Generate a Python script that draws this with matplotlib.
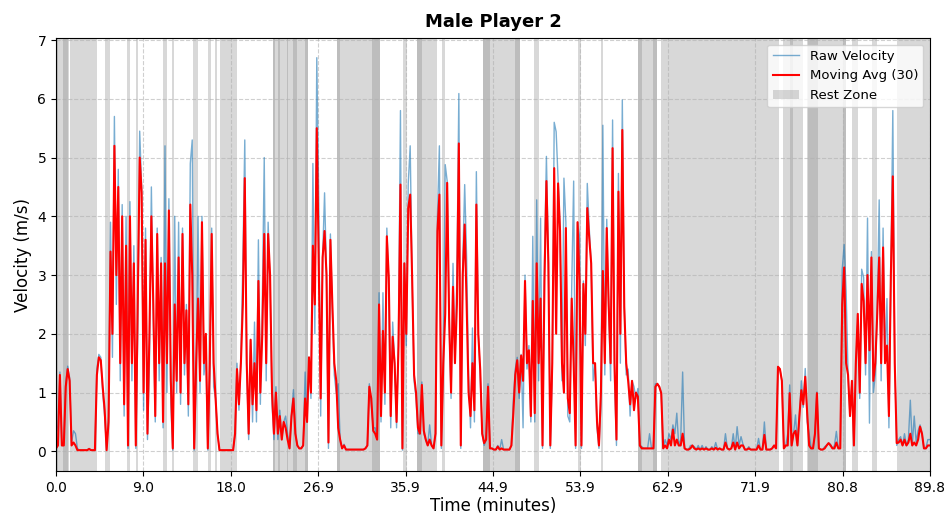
import numpy as np
import matplotlib
matplotlib.use("Agg")
import matplotlib.pyplot as plt
from matplotlib.patches import Patch
from matplotlib.lines import Line2D

# Sampling step of the series (minutes) and total duration
step_min = 0.2
duration_min = 89.82

# Moving average (red) values, one list per 10-minute block (0.2 min steps)
ma_00 = [0.05, 0.1, 1.3, 0.1, 0.1, 1.1, 1.4, 1.2, 0.1, 0.15,
         0.1, 0.02, 0.02, 0.02, 0.02, 0.02, 0.02, 0.04, 0.02, 0.02,
         0.02, 1.3, 1.6, 1.55, 1.1, 0.7, 0.02, 0.5, 3.4, 2.0,
         5.2, 3.0, 4.5, 1.5, 4.0, 0.8, 3.5, 0.1, 4.0, 1.5,
         3.2, 0.1, 2.5, 5.0, 4.4, 1.0, 3.6, 0.3, 2.0, 4.0]
ma_10 = [2.5, 0.6, 3.7, 1.5, 3.2, 0.5, 3.2, 1.5, 4.1, 1.2,
         0.05, 2.5, 1.2, 3.3, 1.0, 3.7, 1.5, 2.4, 0.8, 4.2,
         3.0, 0.05, 1.5, 2.6, 1.2, 3.9, 1.5, 2.0, 0.05, 1.5,
         3.7, 1.5, 0.9, 0.3, 0.02, 0.02, 0.02, 0.02, 0.02, 0.02,
         0.02, 0.02, 0.3, 1.4, 0.8, 1.5, 2.5, 4.65, 1.5, 0.3]
ma_20 = [1.9, 0.8, 1.5, 0.7, 2.9, 1.0, 2.0, 3.7, 1.5, 3.7,
         3.0, 1.0, 0.3, 1.0, 0.3, 0.6, 0.2, 0.5, 0.4, 0.2,
         0.05, 0.6, 0.9, 0.3, 0.1, 0.05, 0.05, 0.1, 0.9, 0.5,
         1.6, 1.0, 3.5, 2.5, 5.5, 3.2, 0.9, 3.3, 3.75, 3.0,
         0.15, 3.6, 2.5, 1.5, 1.2, 0.4, 0.2, 0.05, 0.1, 0.03]
ma_30 = [0.03, 0.03, 0.03, 0.03, 0.03, 0.03, 0.03, 0.03, 0.03, 0.05,
         0.1, 1.1, 0.9, 0.35, 0.3, 0.2, 2.5, 0.6, 2.05, 1.0,
         3.66, 2.96, 0.6, 1.95, 1.5, 0.5, 1.8, 4.54, 0.05, 3.2,
         2.0, 4.14, 4.37, 2.96, 1.3, 1.0, 0.4, 0.3, 1.13, 0.35,
         0.2, 0.1, 0.2, 0.1, 0.05, 0.3, 3.75, 4.37, 0.1, 1.5]
ma_40 = [2.34, 4.57, 2.28, 1.0, 2.8, 1.5, 2.5, 5.24, 0.1, 3.0,
         3.86, 2.5, 1.0, 0.6, 1.5, 0.7, 4.2, 2.0, 1.38, 0.3,
         0.14, 0.2, 1.1, 0.05, 0.05, 0.03, 0.03, 0.08, 0.03, 0.05,
         0.03, 0.03, 0.03, 0.03, 0.1, 0.65, 1.3, 1.55, 1.0, 1.63,
         1.2, 2.9, 1.5, 1.72, 0.6, 2.56, 0.65, 3.2, 1.5, 2.6]
ma_50 = [0.1, 2.9, 4.6, 3.2, 0.1, 1.5, 4.82, 2.0, 4.56, 3.75,
         1.5, 1.0, 3.8, 0.9, 0.65, 2.6, 1.5, 0.1, 3.9, 2.9,
         0.1, 2.85, 2.0, 4.14, 3.63, 3.2, 1.5, 1.5, 0.5, 0.1,
         1.0, 3.07, 1.5, 3.8, 2.5, 1.5, 5.16, 1.5, 0.2, 4.42,
         2.0, 5.47, 2.45, 1.5, 1.2, 0.8, 1.2, 0.7, 1.0, 0.93]
ma_60 = [0.1, 0.05, 0.05, 0.05, 0.05, 0.05, 0.05, 0.05, 1.1, 1.15,
         1.1, 0.99, 0.05, 0.1, 0.05, 0.2, 0.1, 0.37, 0.1, 0.2,
         0.1, 0.1, 0.3, 0.05, 0.03, 0.03, 0.05, 0.1, 0.05, 0.03,
         0.05, 0.03, 0.05, 0.03, 0.05, 0.03, 0.03, 0.05, 0.03, 0.06,
         0.03, 0.05, 0.03, 0.03, 0.15, 0.05, 0.03, 0.05, 0.15, 0.03]
ma_70 = [0.15, 0.05, 0.1, 0.1, 0.03, 0.03, 0.05, 0.03, 0.03, 0.03,
         0.03, 0.1, 0.03, 0.03, 0.28, 0.03, 0.03, 0.03, 0.05, 0.1,
         0.05, 1.44, 1.4, 1.2, 0.05, 0.1, 0.1, 0.99, 0.1, 0.3,
         0.35, 0.1, 0.6, 1.04, 0.8, 1.27, 0.65, 0.1, 0.05, 0.05,
         0.3, 0.99, 0.05, 0.03, 0.03, 0.05, 0.1, 0.14, 0.1, 0.05]
ma_80 = [0.05, 0.15, 0.05, 0.05, 2.5, 3.13, 1.5, 1.3, 0.6, 1.2,
         0.1, 1.5, 2.34, 1.0, 2.85, 2.56, 1.5, 3.0, 1.72, 3.3,
         1.2, 1.5, 2.34, 3.3, 1.5, 3.47, 1.5, 1.8, 0.6, 3.0,
         4.68, 1.5, 0.14, 0.15, 0.2, 0.1, 0.2, 0.1, 0.15, 0.3,
         0.1, 0.15, 0.1, 0.2, 0.42, 0.3, 0.05, 0.05, 0.1, 0.1]

# Raw velocity (blue) values at the same times
raw_00 = [0.3, 0.45, 1.35, 0.1, 0.15, 1.15, 1.45, 1.25, 0.15, 0.35,
          0.3, 0.05, 0.02, 0.02, 0.02, 0.02, 0.02, 0.05, 0.02, 0.02,
          0.02, 1.4, 1.65, 1.6, 1.0, 0.6, 0.05, 0.6, 3.9, 1.6,
          5.7, 2.5, 4.8, 1.2, 4.2, 0.6, 4.0, 0.05, 4.25, 1.2,
          3.5, 0.05, 2.0, 5.45, 4.5, 0.7, 3.8, 0.2, 1.5, 4.5]
raw_10 = [2.2, 0.5, 3.8, 1.2, 3.3, 0.4, 5.2, 1.0, 4.3, 0.8,
          0.02, 4.0, 1.0, 3.9, 0.8, 3.8, 1.3, 2.5, 0.6, 4.9,
          5.3, 0.02, 1.2, 4.0, 1.0, 4.0, 1.3, 1.6, 0.02, 1.3,
          3.8, 1.1, 0.9, 0.3, 0.02, 0.02, 0.02, 0.02, 0.02, 0.02,
          0.02, 0.02, 0.3, 1.5, 0.7, 1.6, 3.2, 5.3, 1.4, 0.2]
raw_20 = [1.9, 0.5, 2.2, 0.5, 3.6, 0.8, 2.5, 5.0, 1.2, 3.9,
          2.8, 0.8, 0.2, 1.1, 0.2, 0.7, 0.2, 0.5, 0.6, 0.3,
          0.05, 0.6, 1.05, 0.3, 0.1, 0.05, 0.05, 0.1, 1.35, 0.5,
          1.6, 0.9, 4.9, 2.0, 6.7, 4.3, 0.6, 3.3, 4.4, 3.0,
          0.05, 3.7, 2.4, 1.3, 1.0, 1.15, 0.2, 0.05, 0.12, 0.03]
raw_30 = [0.03, 0.03, 0.03, 0.03, 0.03, 0.03, 0.03, 0.03, 0.03, 0.05,
          0.1, 1.15, 0.8, 0.4, 0.4, 0.2, 2.7, 0.5, 2.7, 0.8,
          3.8, 2.8, 0.4, 2.2, 1.5, 0.4, 2.0, 5.8, 0.02, 3.2,
          1.8, 4.56, 5.2, 2.9, 1.2, 0.9, 0.3, 0.3, 1.18, 0.3,
          0.2, 0.1, 0.45, 0.1, 0.05, 0.3, 4.0, 5.2, 0.05, 1.5]
raw_40 = [4.88, 4.6, 2.2, 0.9, 3.2, 1.5, 3.0, 6.09, 0.05, 3.2,
          4.54, 3.3, 1.3, 0.4, 2.1, 0.5, 4.76, 2.0, 1.3, 0.3,
          0.1, 0.2, 1.15, 0.05, 0.05, 0.03, 0.03, 0.1, 0.03, 0.2,
          0.03, 0.03, 0.03, 0.03, 0.1, 0.87, 1.4, 1.6, 0.9, 1.65,
          0.4, 3.0, 1.4, 1.8, 0.5, 3.66, 0.5, 4.28, 1.2, 3.97]
raw_50 = [0.05, 3.24, 5.02, 3.3, 0.05, 1.4, 5.6, 5.44, 4.6, 3.8,
          1.2, 4.65, 3.9, 0.6, 0.5, 2.8, 4.6, 0.05, 3.9, 3.66,
          0.05, 2.9, 1.8, 4.56, 3.8, 3.2, 1.2, 1.5, 0.4, 0.05,
          0.8, 5.55, 1.3, 3.95, 2.4, 1.2, 5.64, 1.2, 0.1, 4.73,
          1.5, 5.98, 2.5, 1.3, 1.4, 0.6, 1.2, 1.1, 0.9, 1.07]
raw_60 = [0.1, 0.08, 0.05, 0.05, 0.05, 0.3, 0.05, 0.05, 1.15, 1.15,
          1.1, 1.0, 0.05, 0.2, 0.1, 0.3, 0.2, 0.45, 0.3, 0.65,
          0.1, 0.2, 1.35, 0.05, 0.03, 0.03, 0.1, 0.1, 0.08, 0.03,
          0.1, 0.03, 0.1, 0.03, 0.08, 0.03, 0.03, 0.08, 0.03, 0.15,
          0.03, 0.05, 0.03, 0.03, 0.3, 0.05, 0.03, 0.05, 0.3, 0.03]
raw_70 = [0.42, 0.1, 0.25, 0.12, 0.03, 0.03, 0.08, 0.03, 0.03, 0.03,
          0.03, 0.22, 0.03, 0.03, 0.5, 0.03, 0.03, 0.03, 0.05, 0.1,
          0.1, 1.44, 1.4, 1.2, 0.05, 0.1, 0.3, 1.13, 0.1, 0.3,
          0.62, 0.1, 0.6, 1.2, 0.75, 1.41, 0.5, 0.3, 0.05, 0.05,
          0.3, 1.01, 0.05, 0.03, 0.03, 0.08, 0.1, 0.14, 0.12, 0.05]
raw_80 = [0.1, 0.34, 0.05, 0.05, 3.1, 3.52, 2.73, 1.32, 0.6, 1.2,
          0.1, 1.5, 2.2, 0.9, 3.1, 2.96, 1.3, 3.97, 0.48, 3.4,
          1.0, 1.3, 2.4, 4.28, 1.2, 3.8, 1.5, 2.6, 0.4, 3.0,
          5.8, 1.5, 0.1, 0.2, 0.25, 0.1, 0.3, 0.1, 0.2, 0.87,
          0.1, 0.6, 0.15, 0.35, 0.45, 0.3, 0.05, 0.05, 0.2, 0.2]

# Rest zones (start, end) in minutes
rest_start = [0.0, 0.0, 0.75, 1.44, 5.03, 7.33, 8.22, 10.99, 11.89, 14.08,
              15.62, 16.34, 16.85, 22.30, 22.30, 22.80, 23.70, 24.35, 25.58,
              28.84, 28.84, 32.44, 35.65, 37.06, 37.06, 39.63, 43.87, 43.87,
              47.16, 49.11, 53.64, 56.00, 59.80, 59.80, 61.34, 62.16, 74.67,
              75.42, 77.13, 77.27, 80.87, 81.76, 83.81, 86.38]
rest_end = [0.20, 1.30, 1.25, 4.21, 5.55, 7.60, 8.43, 11.41, 12.12, 14.59,
            15.90, 16.51, 18.63, 22.50, 23.00, 23.85, 24.76, 25.89, 25.89,
            29.18, 33.29, 33.29, 36.06, 37.57, 39.12, 39.97, 44.60, 47.68,
            47.68, 49.63, 53.94, 56.17, 60.18, 61.72, 61.72, 74.29, 75.73,
            76.72, 78.30, 81.24, 81.24, 82.44, 84.33, 89.82]

x_tick_count = 11

moving_avg = np.array(ma_00 + ma_10 + ma_20 + ma_30 + ma_40 + ma_50 + ma_60 + ma_70 + ma_80)
raw_vel = np.array(raw_00 + raw_10 + raw_20 + raw_30 + raw_40 + raw_50 + raw_60 + raw_70 + raw_80)
t = np.arange(len(moving_avg)) * step_min

fig = plt.figure(figsize=(9.51, 5.15), dpi=100)
ax = fig.add_axes([0.0589, 0.0854, 0.9190, 0.8408])

for s, e in zip(rest_start, rest_end):
    ax.axvspan(s, e, color='gray', alpha=0.3, lw=0)

ax.plot(t, raw_vel, color='#1f77b4', alpha=0.6, lw=1)
ax.plot(t, moving_avg, color='red', lw=1.5)

ax.set_xlim(0, duration_min)
ax.set_ylim(-0.335, 7.035)
ticks = np.linspace(0, duration_min, x_tick_count)
ax.set_xticks(ticks)
ax.set_xticklabels([f"{v:.1f}" for v in ticks])
ax.set_yticks(range(0, 8))

ax.grid(True, linestyle='--', alpha=0.6)
ax.set_title('Male Player 2', fontsize=13, fontweight='bold', pad=8)
ax.set_xlabel('Time (minutes)', fontsize=12, labelpad=1.5)
ax.set_ylabel('Velocity (m/s)', fontsize=12)

handles = [Line2D([0], [0], color='#1f77b4', alpha=0.6, lw=1),
           Line2D([0], [0], color='red', lw=1.5),
           Patch(facecolor='gray', alpha=0.3, edgecolor='none')]
ax.legend(handles, ['Raw Velocity', 'Moving Avg (30)', 'Rest Zone'],
          loc='upper right', fontsize=9.5)

fig.savefig('out.png', dpi=100)
